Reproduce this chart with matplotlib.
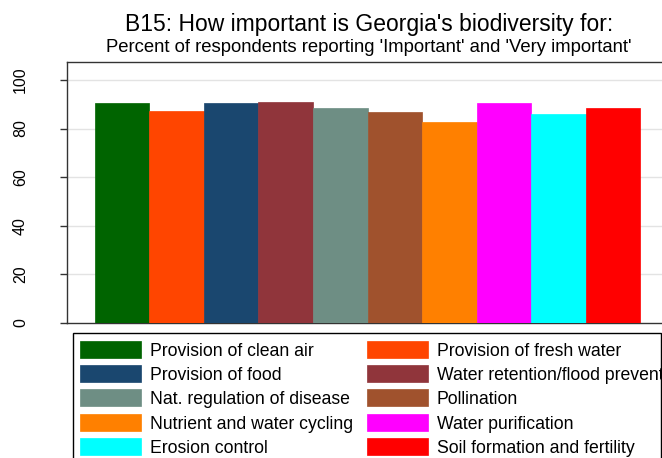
import matplotlib
matplotlib.use("Agg")
import matplotlib.pyplot as plt
from matplotlib.patches import Rectangle

# values
labels = ["Provision of clean air", "Provision of fresh water",
          "Provision of food", "Water retention/flood prevention",
          "Nat. regulation of disease", "Pollination",
          "Nutrient and water cycling", "Water purification",
          "Erosion control", "Soil formation and fertility"]
values = [90.4, 87.4, 90.5, 90.8, 88.6, 86.8, 82.7, 90.5, 86.0, 88.5]
colors = ["#006400", "#FF4500", "#1A476F", "#90353B", "#6E8E84",
          "#A0522D", "#FF8000", "#FF00FF", "#00FFFF", "#FF0000"]
yticks = [0, 20, 40, 60, 80, 100]

plt.rcParams['font.family'] = ['Liberation Sans', 'DejaVu Sans']

W, H = 662, 458
fig = plt.figure(figsize=(W / 100, H / 100), dpi=100)
ax = fig.add_axes([67 / W, 1 - 322.7 / H, 601 / W, 260.4 / H])

ax.bar(range(len(values)), values, width=1.0, color=colors,
       edgecolor=colors, linewidth=0.5, zorder=3)
ax.set_xlim(-1.008, len(values) - 1 + 1.008)
ax.set_ylim(0, 107.3)
ax.set_yticks(yticks)
ax.set_yticklabels([str(t) for t in yticks], rotation=90, va='center', fontsize=11.5)
ax.set_xticks([])
ax.tick_params(axis='y', length=5, width=1, color='#333333', pad=23)
for t in yticks[1:]:
    ax.axhline(t, color='#E3E3E3', lw=1, zorder=1)
for s in ax.spines.values():
    s.set_color('#333333')
    s.set_linewidth(1)

fig.text(369 / W, 1 - 31 / H, "B15: How important is Georgia's biodiversity for:",
         ha='center', va='baseline', fontsize=16.5)
fig.text(369 / W, 1 - 52 / H,
         "Percent of respondents reporting 'Important' and 'Very important'",
         ha='center', va='baseline', fontsize=13.3)

# legend box, drawn by hand so it runs off the page like the original
fig.add_artist(Rectangle((72.5 / W, -20 / H), (661 - 72.5) / W, (H + 20 - 333) / H,
                         transform=fig.transFigure, fill=False,
                         edgecolor='black', lw=1))
col_x = [79.5, 367]
for i, (lab, c) in enumerate(zip(labels, colors)):
    row, col = divmod(i, 2)
    yc = 349.5 + row * 24.2
    fig.add_artist(Rectangle((col_x[col] / W, 1 - (yc + 8.5) / H), 61 / W, 17 / H,
                             transform=fig.transFigure, facecolor=c,
                             edgecolor=c, lw=0.5))
    fig.text((col_x[col] + 70) / W, 1 - yc / H, lab, ha='left',
             va='center_baseline', fontsize=12.7)

fig.savefig("out.png", dpi=100)
